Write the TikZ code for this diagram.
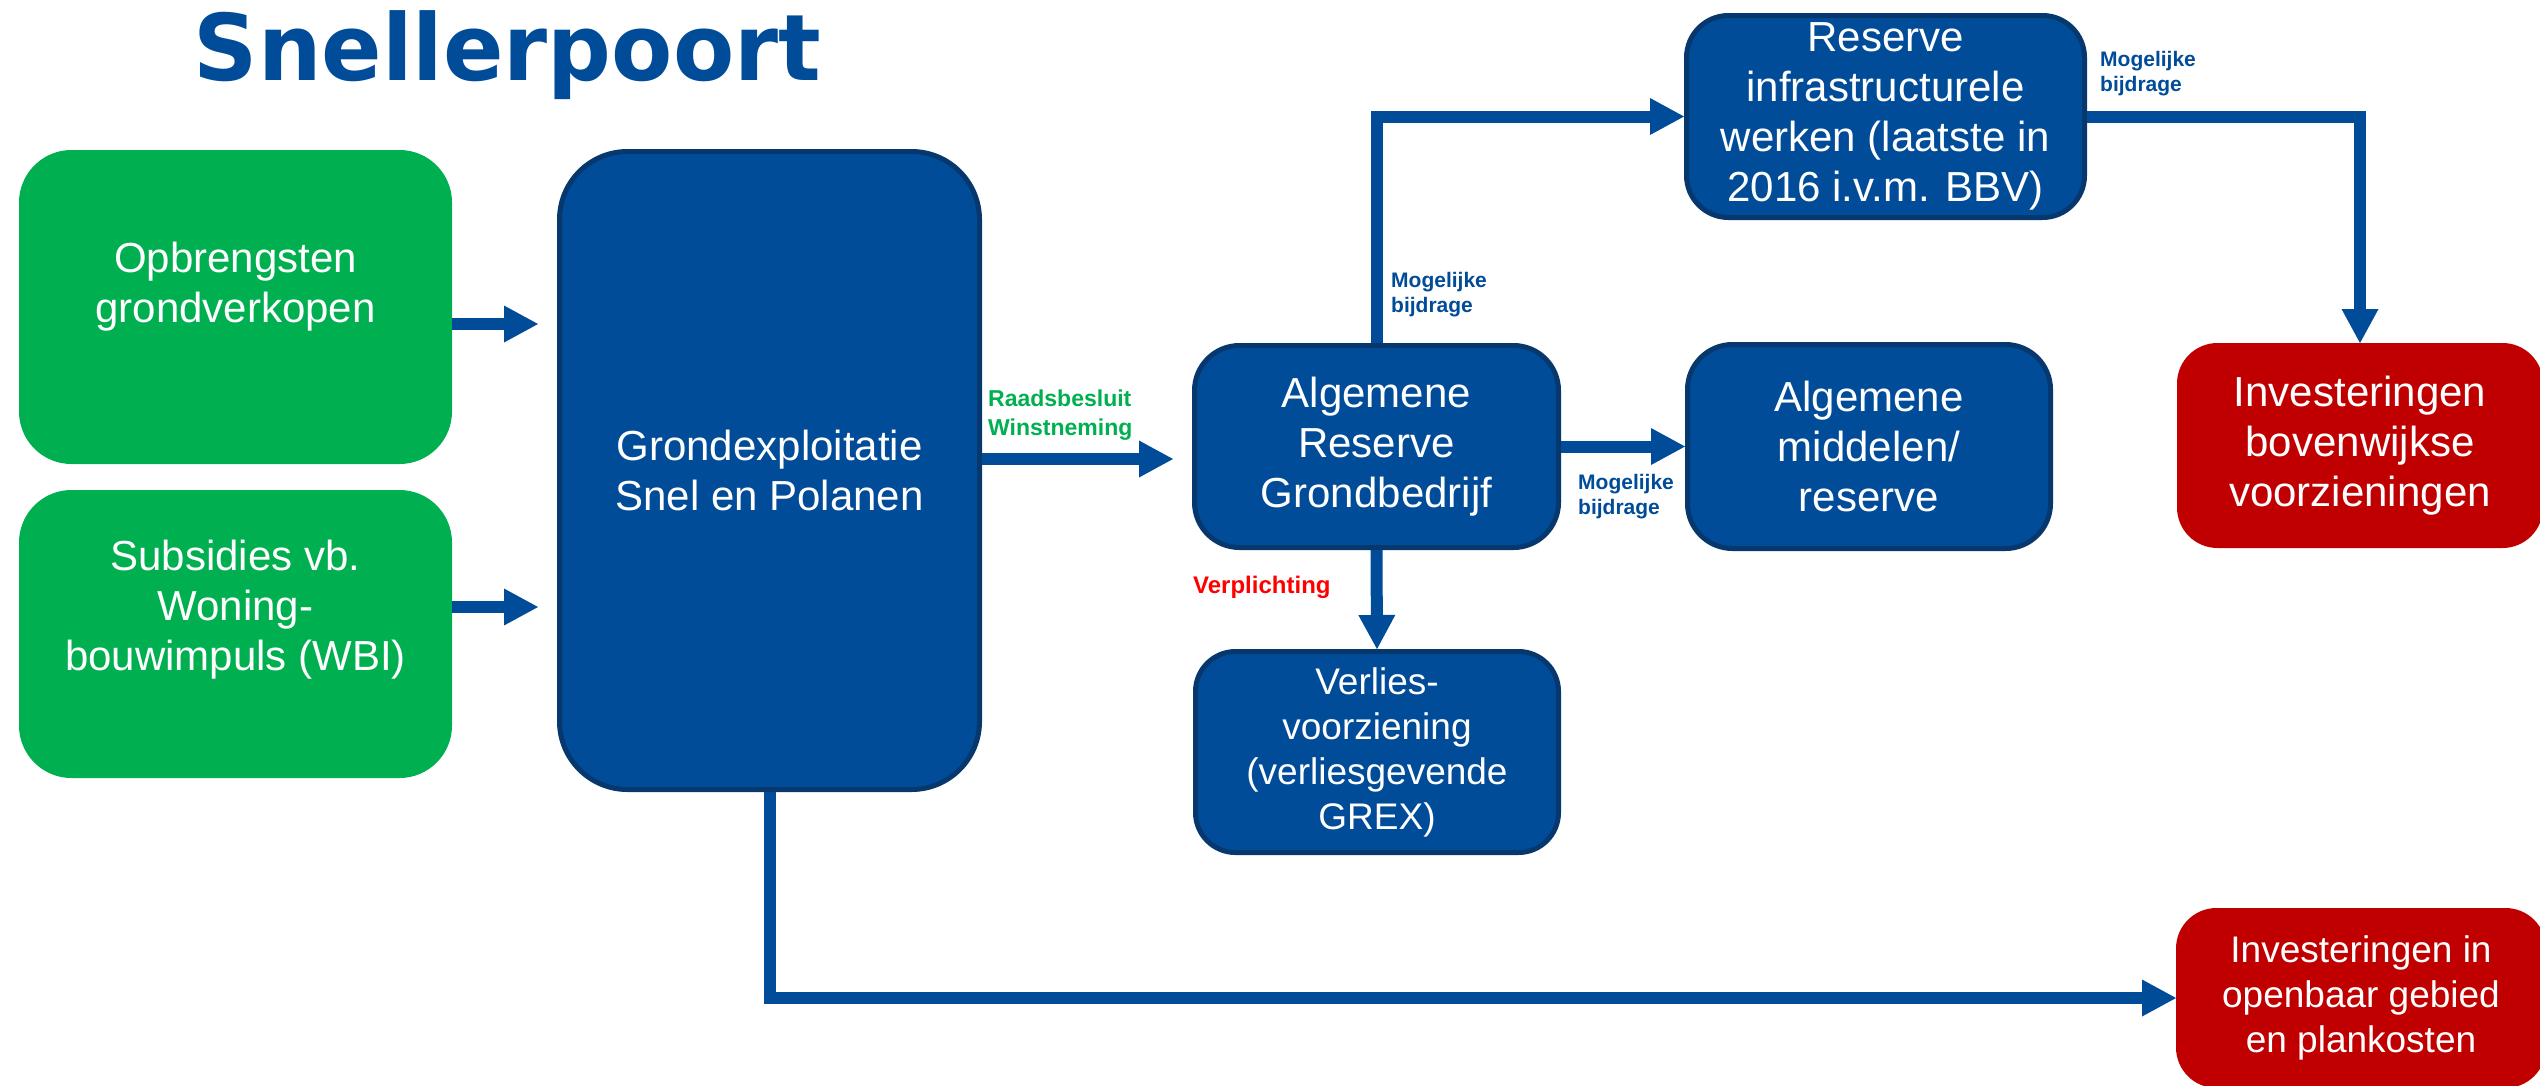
\documentclass[tikz,border=0pt]{standalone}
\usepackage{fontspec}
\setmainfont{Liberation Sans}
\newfontfamily\titlefont{DejaVu Sans}
\usetikzlibrary{arrows.meta}

\definecolor{sbBlue}{RGB}{0,76,153}
\definecolor{sbEdge}{RGB}{6,56,110}
\definecolor{sbGreen}{RGB}{0,176,80}
\definecolor{sbRed}{RGB}{192,0,0}
\definecolor{sbAlert}{RGB}{255,0,0}

\begin{document}
\begin{tikzpicture}[x=1pt,y=-1pt,
  panel/.style={rectangle, line width=5pt, inner sep=0pt, align=center, text=white},
  bluepanel/.style={panel, fill=sbBlue, draw=sbEdge},
  greenpanel/.style={panel, fill=sbGreen, draw=sbGreen},
  redpanel/.style={panel, fill=sbRed, draw=sbRed},
  paneltext/.style={inner sep=0pt, align=center, text=white},
  bigtext/.style={font=\fontsize{42}{50}\selectfont},
  smalltext/.style={font=\fontsize{37}{45}\selectfont},
  tag/.style={inner sep=0pt, anchor=west, align=left, text=sbBlue,
              font=\bfseries\fontsize{21}{25}\selectfont},
  flow/.style={line width=12pt, draw=sbBlue,
               -{Triangle[length=34pt,width=37pt,line width=0pt]}},
]
% canvas
\path[use as bounding box] (0,0) rectangle (2540,1085);
\clip (0,0) rectangle (2540,1085);
\fill[white] (0,0) rectangle (2540,1085);

% title
\node[anchor=base, inner sep=0pt, text=sbBlue,
      font=\titlefont\bfseries\fontsize{92}{100}\selectfont]
  (title) at (507.5,80) {\scalebox{0.97}[1]{Snellerpoort}};

% sources
\node[greenpanel, rounded corners=50pt, minimum width=428pt, minimum height=309pt]
  (opb) at (235.5,307) {};
\node[paneltext, bigtext] (opbtext) at (235.5,287) {Opbrengsten\\grondverkopen};

\node[greenpanel, rounded corners=50pt, minimum width=428pt, minimum height=283pt]
  (sub) at (235.5,634) {};
\node[paneltext, bigtext] (subtext) at (235.5,610) {Subsidies vb.\\Woning-\\bouwimpuls (WBI)};

% land development and reserves
\node[bluepanel, bigtext, rounded corners=68pt, minimum width=420pt, minimum height=638pt]
  (grex) at (769.5,470.5) {Grondexploitatie\\Snel en Polanen};

\node[bluepanel, bigtext, rounded corners=45pt, minimum width=364pt, minimum height=202pt]
  (arg) at (1376.5,446.5) {Algemene\\Reserve\\Grondbedrijf};

\node[bluepanel, smalltext, rounded corners=40pt, minimum width=363pt, minimum height=201pt]
  (verl) at (1377,752) {Verlies-\\voorziening\\(verliesgevende\\GREX)};

\node[bluepanel, bigtext, rounded corners=45pt, minimum width=363pt, minimum height=204pt]
  (amr) at (1869,446.5) {Algemene\\middelen/\\reserve};

\node[bluepanel, bigtext, rounded corners=42pt, minimum width=398pt, minimum height=202pt]
  (rinf) at (1885.5,116.5) {Reserve\\infrastructurele\\werken (laatste in\\2016 i.v.m. BBV)};

% spending
\node[redpanel, bigtext, rounded corners=38pt, minimum width=361pt, minimum height=200pt]
  (inv1) at (2360,445.5) {Investeringen\\bovenwijkse\\voorzieningen};

\node[redpanel, smalltext, rounded corners=38pt, minimum width=365pt, minimum height=175pt]
  (inv2) at (2361,998) {Investeringen in\\openbaar gebied\\en plankosten};

% flows
\coordinate (a1) at ([yshift=-17pt]opb.east);
\draw[flow, shorten >=19pt] (a1) -- (a1 -| grex.west);
\coordinate (a2) at ([yshift=27pt]sub.east);
\draw[flow, shorten >=19pt] (a2) -- (a2 -| grex.west);
\coordinate (a3) at ([yshift=11.5pt]grex.east);
\draw[flow, shorten >=19pt] (a3) -- (a3 -| arg.west);
\draw[flow] (arg.east) -- (amr.west);
\draw[flow] (arg.south) -- (verl.north);
\draw[flow] (arg.north) |- (rinf.west);
\draw[flow] (rinf.east) -| (inv1.north);
\draw[flow] (grex.south) |- (inv2.west);

% flow labels
\node[tag, text=sbGreen, font=\bfseries\fontsize{23}{29}\selectfont]
  (raad) at (988,415) {Raadsbesluit\\Winstneming};
\node[tag] (mb1) at (1391,295) {Mogelijke\\bijdrage};
\node[tag] (mb2) at (1578,497) {Mogelijke\\bijdrage};
\node[tag] (mb3) at (2100,74) {Mogelijke\\bijdrage};
\node[tag, text=sbAlert, font=\bfseries\fontsize{24}{29}\selectfont]
  (verpl) at (1193,587) {Verplichting};
\end{tikzpicture}
\end{document}
